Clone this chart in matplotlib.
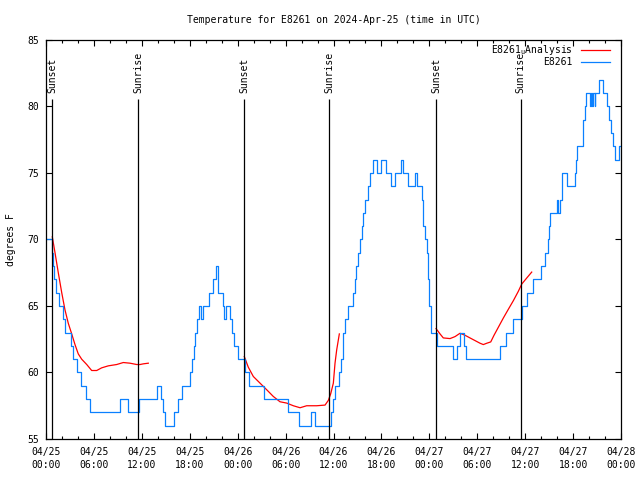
import matplotlib
matplotlib.use("Agg")
import matplotlib.pyplot as plt
import numpy as np

plt.rcParams['font.family'] = ['DejaVu Sans Mono', 'DejaVu Sans']
plt.rcParams['mathtext.fontset'] = 'dejavusans'

# hours since 2024-04-25 00:00 UTC
obs_hours = [0.00, 0.69, 0.88, 1.06, 1.31, 1.69, 2.13, 2.44, 3.07, 3.38, 3.82, 4.32, 5.07, 5.57,
             9.27, 10.21, 11.65, 13.90, 14.40, 14.65, 14.90, 16.09, 16.53, 17.09, 17.97, 18.22,
             18.47, 18.66, 18.85, 19.22, 19.41, 19.66, 20.35, 20.85, 21.29, 21.54, 22.16, 22.35,
             22.60, 23.10, 23.29, 23.60, 24.04, 24.86, 25.48, 27.30, 30.30, 31.68, 33.18, 33.68,
             35.69, 35.94, 36.19, 36.69, 36.94, 37.13, 37.25, 37.44, 37.82, 38.38, 38.63, 38.82,
             39.07, 39.32, 39.51, 39.69, 39.94, 40.26, 40.63, 40.95, 41.45, 41.89, 42.57, 43.14,
             43.70, 44.45, 44.70, 45.33, 46.21, 46.46, 47.02, 47.21, 47.46, 47.65, 47.83, 48.02,
             48.15, 48.27, 48.90, 50.96, 51.46, 51.84, 52.34, 52.59, 56.91, 57.66, 58.48, 59.60,
             60.17, 61.04, 61.92, 62.48, 62.80, 62.99, 63.17, 63.99, 64.05, 64.30, 64.55, 64.67,
             65.18, 66.24, 66.37, 66.49, 67.18, 67.30, 67.43, 67.62, 68.18, 68.23, 68.43, 68.48,
             68.72, 68.77, 69.25, 69.75, 70.25, 70.50, 70.69, 70.94, 71.19, 71.75, 72.00]
obs_temps = [70, 69, 68, 67, 66, 65, 64, 63, 62, 61, 60, 59, 58, 57,
             58, 57, 58, 59, 58, 57, 56, 57, 58, 59, 60, 61,
             62, 63, 64, 65, 64, 65, 66, 67, 68, 66, 65, 64,
             65, 64, 63, 62, 61, 60, 59, 58, 57, 56, 57, 56,
             57, 58, 59, 60, 61, 62, 63, 64, 65, 66, 67, 68,
             69, 70, 71, 72, 73, 74, 75, 76, 75, 76, 75, 74,
             75, 76, 75, 74, 75, 74, 73, 71, 70, 69, 67, 65,
             64, 63, 62, 61, 62, 63, 62, 61, 62, 63, 64, 65,
             66, 67, 68, 69, 70, 71, 72, 73, 72, 73, 74, 75,
             74, 75, 76, 77, 78, 79, 80, 81, 80, 81, 80, 81,
             80, 81, 82, 81, 80, 79, 78, 77, 76, 77, 77]

# analysis runs (one per night)
ana1_hours = [0.79, 1.13, 1.54, 1.97, 2.38, 2.79, 3.22, 3.63, 4.04, 4.47, 5.10, 5.72, 6.35,
              6.97, 7.80, 8.85, 9.68, 10.52, 11.36, 11.77, 12.18, 12.81]
ana1_temps = [70.2, 69.0, 67.5, 66.0, 64.7, 63.7, 62.9, 62.1, 61.4, 61.0, 60.6, 60.15, 60.15,
              60.35, 60.5, 60.6, 60.75, 60.7, 60.6, 60.6, 60.65, 60.7]
ana2_hours = [24.83, 25.33, 25.96, 26.80, 27.64, 28.46, 29.30, 30.14, 30.97, 31.81, 32.64,
              33.90, 34.94, 35.35, 35.65, 35.98, 36.19, 36.40, 36.73]
ana2_temps = [61.2, 60.4, 59.7, 59.2, 58.7, 58.2, 57.8, 57.7, 57.5, 57.35, 57.5,
              57.5, 57.55, 57.9, 58.4, 59.2, 60.7, 61.7, 62.9]
ana3_hours = [48.84, 49.34, 49.75, 50.59, 51.22, 51.84, 52.47, 53.09, 53.72, 54.35, 54.76,
              55.19, 55.69, 56.10, 56.64, 57.27, 57.89, 58.52, 59.14, 59.57, 60.19, 60.82]
ana3_temps = [63.3, 62.9, 62.6, 62.55, 62.7, 62.95, 62.8, 62.6, 62.4, 62.2, 62.1,
              62.2, 62.3, 62.8, 63.4, 64.1, 64.75, 65.4, 66.1, 66.65, 67.1, 67.55]

sun_hours = [0.75, 11.55, 24.82, 35.46, 48.85, 59.45]
sun_labels = ['Sunset', 'Sunrise', 'Sunset', 'Sunrise', 'Sunset', 'Sunrise']

tick_hours = list(range(0, 73, 6))
tick_labels = ['04/25\n00:00', '04/25\n06:00', '04/25\n12:00', '04/25\n18:00',
               '04/26\n00:00', '04/26\n06:00', '04/26\n12:00', '04/26\n18:00',
               '04/27\n00:00', '04/27\n06:00', '04/27\n12:00', '04/27\n18:00',
               '04/28\n00:00']

fs = 7
red = '#ff0000'
blue = '#0a80ff'

fig = plt.figure(figsize=(6.4, 4.8), dpi=100)
ax = fig.add_axes([46/640, 1 - 439/480, 575/640, 399/480])

for h, t in [(ana1_hours, ana1_temps), (ana2_hours, ana2_temps), (ana3_hours, ana3_temps)]:
    ax.plot(h, t, color=red, lw=0.9)
ax.plot(obs_hours, obs_temps, color=blue, lw=0.9, drawstyle='steps-post')

ax.vlines(sun_hours, 55, 80.6, color='black', lw=0.9)
for h, lab in zip(sun_hours, sun_labels):
    ax.text(h, 81.0, lab, rotation=90, ha='center', va='bottom', fontsize=fs)

ax.set_xlim(0, 72)
ax.set_ylim(55, 85)
ax.set_xticks(tick_hours)
ax.set_xticklabels(tick_labels)
ax.set_xticks(np.arange(0, 73, 2), minor=True)
ax.set_yticks(np.arange(55, 86, 5))
for lab in ax.get_xticklabels():
    lab.set_linespacing(1.35)

ax.tick_params(which='both', direction='in', top=True, right=True, labelsize=fs, width=0.8)
ax.tick_params(which='major', length=4)
ax.tick_params(which='minor', length=2)
ax.tick_params(axis='x', pad=6)
ax.tick_params(axis='y', pad=5)
for sp in ax.spines.values():
    sp.set_linewidth(0.9)

ax.set_title('Temperature for E8261 on 2024-Apr-25 (time in UTC)', fontsize=fs, pad=12)
ax.set_ylabel('degrees F', fontsize=fs, labelpad=8)

# gnuplot-style key: text right-justified, sample after it
key_rows = [(r'E8261$_{\mathtt{u}}$Analysis', red, 0.975), ('E8261', blue, 0.945)]
for lab, col, yy in key_rows:
    ax.text(0.9165, yy, lab, transform=ax.transAxes, ha='right', va='center', fontsize=fs)
    ax.plot([0.930, 0.981], [yy, yy], transform=ax.transAxes, color=col, lw=0.9)

fig.savefig('out.png', dpi=100)
